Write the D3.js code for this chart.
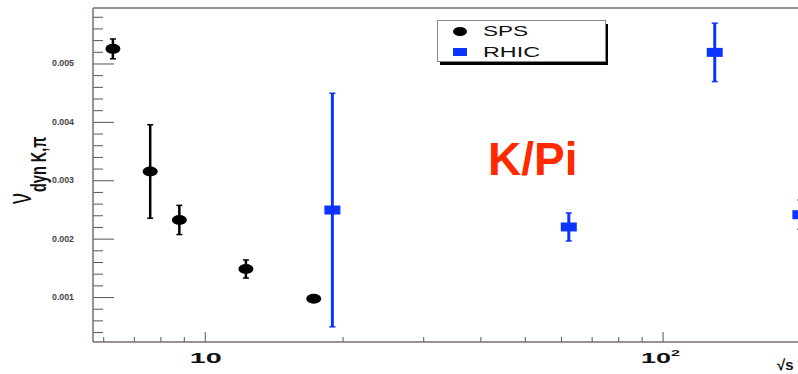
<!DOCTYPE html>
<html>
<head>
<meta charset="utf-8">
<script src="https://cdn.jsdelivr.net/npm/d3@7"></script>
<style>
  body { margin: 0; background: #fff; }
  svg { display: block; }
</style>
</head>
<body>
<div id="chart"></div>
<script>
// SPS points (black) : sqrt(s) in GeV, value, symmetric error
var spsX = [6.3, 7.6, 8.8, 12.3, 17.3];
var spsY = [0.00525, 0.00315, 0.00232, 0.00148, 0.00097];
var spsErr = [0.00017, 0.0008, 0.00025, 0.000155, 0.00002];
// RHIC points (blue)
var rhicX = [19, 62.4, 130, 200];
var rhicY = [0.00249, 0.0022, 0.00519, 0.00241];
var rhicErr = [0.002, 0.00024, 0.0005, 0.00025];
// axis ticks
var yMajor = [0.001, 0.002, 0.003, 0.004, 0.005];
var yLabels = ['0.001', '0.002', '0.003', '0.004', '0.005'];
var xMajor = [10, 100];
var xMinor = [6, 7, 8, 9, 20, 30, 40, 50, 60, 70, 80, 90, 200, 300];
var legendNames = ['SPS', 'RHIC'];

var W = 798, H = 374;
var LEFT = 93, TOP = 8, BOTTOM = 342;
var AXIS_COLOR = '#7e6d6d';
var BLUE = '#0c34ff';
var FONT = 'Liberation Sans, Arial, sans-serif';

var svg = d3.select('#chart').append('svg').attr('width', W).attr('height', H);

var x = d3.scaleLog().domain([5.7, 300]).range([LEFT, 881]);
var y = d3.scaleLinear().domain([0.00023, 0.00595]).range([BOTTOM, TOP]);

// minor y ticks every 0.0002
var yMinor = d3.range(2, 60, 2).map(function (d) { return d / 10000; })
    .filter(function (d) { return d > 0.00023 && d < 0.00595 && Math.round(d * 10000) % 10 !== 0; });

/** Frame lines: left axis and top border. */
svg.append('line').attr('x1', LEFT).attr('x2', W).attr('y1', TOP).attr('y2', TOP)
    .attr('stroke', AXIS_COLOR).attr('stroke-width', 1.5);

var yAxisMinor = d3.axisLeft(y).tickValues(yMinor).tickSize(-10).tickFormat('');
var yAxisMajor = d3.axisLeft(y).tickValues(yMajor).tickSize(-21).tickFormat('');
[yAxisMinor, yAxisMajor].forEach(function (ax) {
    var g = svg.append('g').attr('transform', 'translate(' + LEFT + ',0)').call(ax);
    g.select('.domain').remove();
    g.selectAll('line').attr('stroke', '#555').attr('stroke-width', 1);
});
svg.append('line').attr('x1', LEFT).attr('x2', LEFT).attr('y1', TOP).attr('y2', BOTTOM)
    .attr('stroke', AXIS_COLOR).attr('stroke-width', 1.5);

var xAxisMinor = d3.axisBottom(x).tickValues(xMinor).tickSize(-5).tickFormat('');
var xAxisMajor = d3.axisBottom(x).tickValues(xMajor).tickSize(-10).tickFormat('');
[xAxisMinor, xAxisMajor].forEach(function (ax) {
    var g = svg.append('g').attr('transform', 'translate(0,' + BOTTOM + ')').call(ax);
    g.select('.domain').remove();
    g.selectAll('line').attr('stroke', '#555').attr('stroke-width', 1);
});
svg.append('line').attr('x1', LEFT).attr('x2', W).attr('y1', BOTTOM).attr('y2', BOTTOM)
    .attr('stroke', AXIS_COLOR).attr('stroke-width', 1.5);

// y tick labels
yMajor.forEach(function (v, i) {
    svg.append('text').attr('x', 74).attr('y', y(v) + 3)
        .attr('text-anchor', 'end').attr('font-family', FONT).attr('font-weight', 'bold')
        .attr('font-size', 8.5).attr('fill', '#444')
        .attr('textLength', 22).attr('lengthAdjust', 'spacingAndGlyphs')
        .text(yLabels[i]);
});

// x tick labels
svg.append('text').attr('x', x(10) - 15).attr('y', 363).attr('font-family', FONT)
    .attr('font-weight', 'bold').attr('font-size', 14).attr('fill', '#111')
    .attr('textLength', 32).attr('lengthAdjust', 'spacingAndGlyphs').text('10');
svg.append('text').attr('x', x(100) - 21.5).attr('y', 363).attr('font-family', FONT)
    .attr('font-weight', 'bold').attr('font-size', 14).attr('fill', '#111')
    .attr('textLength', 30).attr('lengthAdjust', 'spacingAndGlyphs').text('10');
svg.append('text').attr('x', x(100) + 8.5).attr('y', 356).attr('font-family', FONT)
    .attr('font-weight', 'bold').attr('font-size', 9).attr('fill', '#111')
    .attr('textLength', 9).attr('lengthAdjust', 'spacingAndGlyphs').text('2');

// x axis title, bottom-right corner
svg.append('text').attr('x', 777).attr('y', 370).attr('font-family', FONT)
    .attr('font-weight', 'bold').attr('font-size', 15).attr('fill', '#111')
    .text('\u221As');

// y axis title
var yt = svg.append('text').attr('transform', 'translate(31,204) rotate(-90) scale(1,1.5)')
    .attr('font-family', FONT).attr('fill', '#111');
yt.append('tspan').attr('font-size', 22).text('\u03BD');
yt.append('tspan').attr('font-size', 14.5).attr('font-weight', 'bold')
    .attr('dy', 10).attr('dx', 1).text('dyn K,\u03C0');

// error bars helper
function drawErrors(xs, ys, errs, color, width) {
    var g = svg.append('g').attr('stroke', color).attr('stroke-width', width);
    xs.forEach(function (xv, i) {
        var px = x(xv);
        var top = y(ys[i] + errs[i]);
        var bot = y(ys[i] - errs[i]);
        g.append('line').attr('x1', px).attr('x2', px).attr('y1', top).attr('y2', bot);
        g.append('line').attr('x1', px - 3).attr('x2', px + 3).attr('y1', top).attr('y2', top).attr('stroke-width', 1.5);
        g.append('line').attr('x1', px - 3).attr('x2', px + 3).attr('y1', bot).attr('y2', bot).attr('stroke-width', 1.5);
    });
}

drawErrors(spsX, spsY, spsErr, '#000', 2.5);
svg.append('g').selectAll('ellipse').data(spsX).join('ellipse')
    .attr('cx', function (d) { return x(d); })
    .attr('cy', function (d, i) { return y(spsY[i]); })
    .attr('rx', 7.5).attr('ry', 5).attr('fill', '#000');

drawErrors(rhicX, rhicY, rhicErr, BLUE, 3);
svg.append('g').selectAll('rect').data(rhicX).join('rect')
    .attr('x', function (d) { return x(d) - 8; })
    .attr('y', function (d, i) { return y(rhicY[i]) - 4.5; })
    .attr('width', 16).attr('height', 9).attr('fill', BLUE);

// legend with drop shadow
var lg = svg.append('g');
lg.append('rect').attr('x', 440).attr('y', 24).attr('width', 168).attr('height', 41).attr('fill', '#000');
lg.append('rect').attr('x', 437.5).attr('y', 20.5).attr('width', 168).attr('height', 41)
    .attr('fill', '#fff').attr('stroke', '#888').attr('stroke-width', 1);
lg.append('ellipse').attr('cx', 460).attr('cy', 31.5).attr('rx', 7).attr('ry', 4.5).attr('fill', '#000');
lg.append('rect').attr('x', 453).attr('y', 48).attr('width', 14).attr('height', 8).attr('fill', BLUE);
[[legendNames[0], 36, 45], [legendNames[1], 57, 57]].forEach(function (e) {
    lg.append('text').attr('x', 483).attr('y', e[1]).attr('font-family', FONT)
        .attr('font-size', 14).attr('fill', '#111')
        .attr('textLength', e[2]).attr('lengthAdjust', 'spacingAndGlyphs').text(e[0]);
});

// annotation
svg.append('text').attr('x', 488).attr('y', 175).attr('font-family', FONT)
    .attr('font-weight', 'bold').attr('font-size', 46).attr('fill', '#ff2a00').text('K/Pi');
</script>
</body>
</html>
